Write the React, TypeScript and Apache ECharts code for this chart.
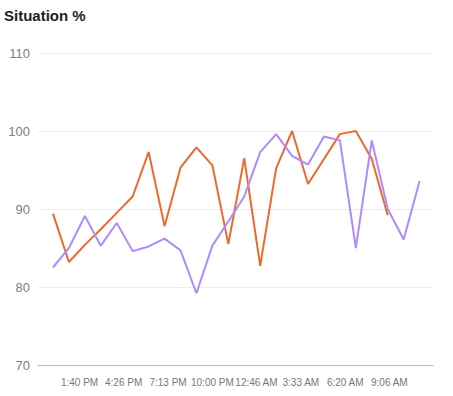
import React, { useEffect, useRef } from "react";
import * as echarts from "echarts";

const title = "Situation %";

// hourly timestamps (clock times) of the data points, starting at noon
const times = [
  "12:00 PM", "1:00 PM", "2:00 PM", "3:00 PM", "4:00 PM", "5:00 PM",
  "6:00 PM", "7:00 PM", "8:00 PM", "9:00 PM", "10:00 PM", "11:00 PM",
  "12:00 AM", "1:00 AM", "2:00 AM", "3:00 AM", "4:00 AM", "5:00 AM",
  "6:00 AM", "7:00 AM", "8:00 AM", "9:00 AM", "10:00 AM", "11:00 AM",
];

const orangeValues: (number | null)[] = [
  89.4, 83.2, 85.4, 87.4, 89.5, 91.6, 97.3, 87.8, 95.3, 97.9, 95.6, 85.5,
  96.5, 82.7, 95.2, 100.0, 93.2, 96.4, 99.6, 100.0, 96.4, 89.2, null, null,
];

const purpleValues: (number | null)[] = [
  82.5, 85.0, 89.1, 85.3, 88.2, 84.6, 85.2, 86.2, 84.7, 79.2, 85.3, 88.4,
  91.6, 97.3, 99.6, 96.8, 95.7, 99.3, 98.8, 85.0, 98.8, 90.0, 86.1, 93.6,
];

const xTickLabels = [
  "1:40 PM", "4:26 PM", "7:13 PM", "10:00 PM", "12:46 AM", "3:33 AM", "6:20 AM", "9:06 AM",
];

const yMin = 70;
const yMax = 110;
const yStep = 10;

// hours elapsed since the first noon
function toHours(label: string, prev: number): number {
  const m = label.match(/(\d+):(\d+)\s*(AM|PM)/);
  if (!m) return 0;
  let h = parseInt(m[1], 10) % 12;
  if (m[3] === "PM") h += 12;
  let v = h + parseInt(m[2], 10) / 60 - 12;
  while (v < prev - 0.0001) v += 24;
  return v;
}

function toHoursList(labels: string[]): number[] {
  const out: number[] = [];
  let prev = -1;
  labels.forEach((l) => {
    const v = toHours(l, prev < 0 ? 0 : prev);
    out.push(v);
    prev = v;
  });
  return out;
}

export default function App() {
  const ref = useRef<HTMLDivElement>(null);

  useEffect(() => {
    document.body.style.margin = "0";
    if (!ref.current) return;
    const chart = echarts.init(ref.current, undefined, { renderer: "svg" });
    const xs = toHoursList(times);
    const tickPos = toHoursList(xTickLabels);
    const tickMap = new Map<number, string>();
    tickPos.forEach((p, i) => tickMap.set(Math.round(p * 1000), xTickLabels[i]));

    const fontFamily = "'Liberation Sans', Arial, sans-serif";

    chart.setOption({
      animation: false,
      title: {
        text: title,
        left: 4,
        top: 8,
        padding: 0,
        textStyle: { fontSize: 15, fontWeight: "bold", color: "#1e1e1e", fontFamily },
      },
      grid: { left: 38, right: 20, top: 53, bottom: 31, containLabel: false },
      xAxis: {
        type: "value",
        min: -0.94,
        max: 23.84,
        axisLine: { show: true, lineStyle: { color: "#bbbbbb", width: 1 } },
        axisTick: { show: false },
        splitLine: { show: false },
        axisLabel: {
          customValues: tickPos,
          margin: 12,
          color: "#777",
          fontSize: 10,
          fontFamily,
          formatter: (v: number) => tickMap.get(Math.round(v * 1000)) ?? "",
        },
      },
      yAxis: {
        type: "value",
        min: yMin,
        max: yMax,
        interval: yStep,
        axisLine: { show: false },
        axisTick: { show: false },
        splitLine: { lineStyle: { color: "#ececec", width: 1 } },
        axisLabel: { color: "#808080", fontSize: 13, margin: 8, fontFamily },
      },
      series: [
        {
          type: "line",
          data: xs.map((x, i) => [x, orangeValues[i]]),
          showSymbol: false,
          lineStyle: { color: "#ee6a2c", width: 2 },
          itemStyle: { color: "#ee6a2c" },
        },
        {
          type: "line",
          data: xs.map((x, i) => [x, purpleValues[i]]),
          showSymbol: false,
          lineStyle: { color: "#ae8bff", width: 2 },
          itemStyle: { color: "#ae8bff" },
        },
      ],
    });
    return () => chart.dispose();
  }, []);

  return <div ref={ref} style={{ width: 453, height: 396 }} />;
}
